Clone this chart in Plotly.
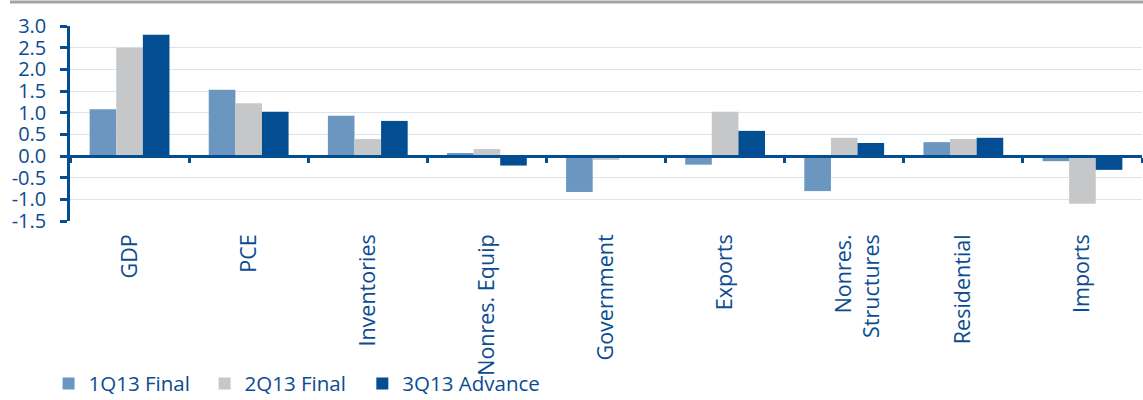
import plotly.graph_objects as go

# Contributions to real GDP growth, percentage points
categories = ["GDP", "PCE", "Inventories", "Nonres. Equip", "Government",
              "Exports", "Nonres. Structures", "Residential", "Imports"]
category_labels = ["GDP", "PCE", "Inventories", "Nonres. Equip", "Government",
                   "Exports", "\u00a0<br>Nonres.<br>Structures", "Residential", "Imports"]
series_names = ["1Q13 Final", "2Q13 Final", "3Q13 Advance"]
q1_final = [1.08, 1.53, 0.93, 0.07, -0.83, -0.20, -0.81, 0.32, -0.12]
q2_final = [2.50, 1.22, 0.39, 0.16, -0.09, 1.02, 0.42, 0.39, -1.10]
q3_advance = [2.80, 1.02, 0.81, -0.22, 0.01, 0.58, 0.30, 0.42, -0.32]

y_tickvals = [3.0, 2.5, 2.0, 1.5, 1.0, 0.5, 0.0, -0.5, -1.0, -1.5]
y_ticktext = ["3.0", "2.5", "2.0", "1.5", "1.0", "0.5", "0.0", "-0.5", "-1.0", "-1.5"]

NAVY = "#034d93"
TEXT = "#0b4c92"
FONT = "Open Sans"
colors = ["#6a96c0", "#c6c7c9", NAVY]
legend_ids = ["legend", "legend2", "legend3"]
legend_x = [0.0425, 0.179, 0.317]

fig = go.Figure()
for name, vals, col, lg in zip(series_names, [q1_final, q2_final, q3_advance],
                               colors, legend_ids):
    fig.add_trace(go.Bar(x=categories, y=vals, name=name, marker_color=col,
                         marker_line_width=0, legend=lg))

# invisible helper trace so the zero-line axis carries the category boundaries
fig.add_trace(go.Scatter(x=categories, y=[0] * len(categories), xaxis="x2",
                         mode="markers", marker=dict(opacity=0, size=1),
                         showlegend=False, hoverinfo="skip"))

legend_style = dict(orientation="h", xref="container", yref="container",
                    y=0.041, xanchor="left", yanchor="middle",
                    font=dict(size=20.5, color=TEXT, family=FONT),
                    bgcolor="rgba(0,0,0,0)")

fig.update_layout(
    width=1143, height=400,
    margin=dict(l=70, r=1, t=26, b=179, autoexpand=False),
    paper_bgcolor="white", plot_bgcolor="white",
    barmode="group", bargap=0.33, bargroupgap=0,
    font=dict(family=FONT, color=TEXT, size=19),
    xaxis=dict(type="category", showline=False, ticks="", showgrid=False,
               tickvals=categories, ticktext=category_labels,
               tickangle=-90, tickfont=dict(size=21.5, color=TEXT),
               ticklabelstandoff=8, automargin=False),
    xaxis2=dict(overlaying="x", matches="x", anchor="free", position=1.5 / 4.5,
                showline=True, linecolor=NAVY, linewidth=3,
                ticks="outside", tickson="boundaries", ticklen=5, tickwidth=2.5,
                tickcolor=NAVY, showticklabels=False, showgrid=False,
                automargin=False),
    yaxis=dict(range=[-1.5, 3.0], tickvals=y_tickvals, ticktext=y_ticktext,
               showline=True, linecolor=NAVY, linewidth=2.5,
               ticks="outside", ticklen=7, tickwidth=2.5, tickcolor=NAVY,
               showgrid=True, gridcolor="#dbe3ed", gridwidth=1.2,
               zeroline=False, tickfont=dict(size=20, color=TEXT),
               ticklabelstandoff=10, automargin=False),
    legend=dict(legend_style, x=legend_x[0]),
    legend2=dict(legend_style, x=legend_x[1]),
    legend3=dict(legend_style, x=legend_x[2]),
    shapes=[dict(type="line", xref="paper", yref="paper",
                 x0=(10 - 70) / 1072, x1=1.01, y0=1 + 24 / 195, y1=1 + 24 / 195,
                 line=dict(color="#a3a3a3", width=3))],
)

fig.write_html("out.html")
